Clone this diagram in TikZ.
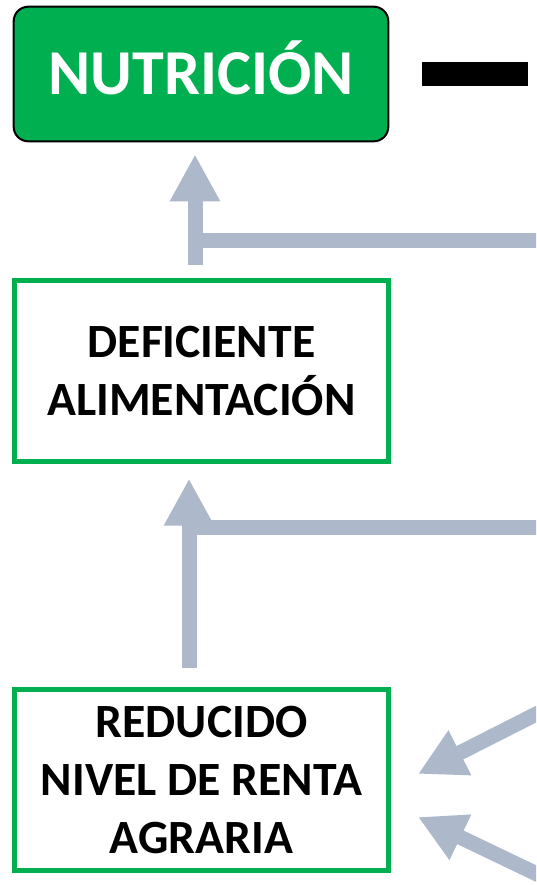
\documentclass[tikz,border=0pt]{standalone}
\usepackage{fontspec}
\setmainfont{Carlito}
\usetikzlibrary{arrows.meta,calc}
\definecolor{verde}{RGB}{0,176,80}
\definecolor{grisazul}{RGB}{173,185,202}

\begin{document}
\begin{tikzpicture}[x=0.75pt,y=0.75pt,yscale=-1,xscale=1,
    cajaverde/.style={draw=verde, line width=3.75pt, fill=white, minimum width=280.5pt, minimum height=135.75pt, inner sep=0pt, align=center, font=\bfseries\fontsize{35.8}{43.5}\selectfont},
    flecha/.style={draw=grisazul, line width=11.25pt, -{Triangle[width=35.25pt,length=35.25pt]}},
    rama/.style={draw=grisazul, line width=11.25pt}]
                \useasboundingbox (0,0) rectangle (536,886);
                \clip (0,0) rectangle (536,886);

                %Shape: Rounded Rect [id:nutri]
                \node[draw=black, line width=1.5pt, fill=verde, rounded corners=11pt, minimum width=281pt, minimum height=101pt, inner sep=0pt, text height=30pt, text depth=0pt, text=white, font=\bfseries\fontsize{48}{50}\selectfont] (nutri) at (201,74) {NUTRICIÓN};
                %Shape: Rectangle [id:guion]
                \fill (421.5,62) rectangle (527.5,86);

                %Shape: Rectangle [id:deficiente]
                \node[cajaverde] (deficiente) at (201.5,371) {DEFICIENTE\\ALIMENTACIÓN};
                %Shape: Rectangle [id:renta]
                \node[cajaverde] (renta) at (201.5,780) {REDUCIDO\\NIVEL DE RENTA\\AGRARIA};

                % ejes de las flechas verticales
                \coordinate (eje1) at (195,0);
                \coordinate (eje2) at (189,0);
                \coordinate (entrada1) at (545,240.5);
                \coordinate (entrada2) at (545,527);
                \coordinate (origen1) at (560,702);
                \coordinate (origen2) at (560,885);

                %Straight Lines [id:flecha1]
                \draw[rama] (entrada1) -- (eje1 |- entrada1);
                \draw[flecha, shorten <=9.5pt, shorten >=9pt] (deficiente.north -| eje1) -- (nutri.south -| eje1);
                %Straight Lines [id:flecha2]
                \draw[rama] (entrada2) -- (eje2 |- entrada2);
                \draw[flecha, shorten <=14pt, shorten >=11pt] (renta.north -| eje2) -- (deficiente.south -| eje2);
                %Straight Lines [id:flecha3]
                \draw[flecha] (origen1) -- ($(renta.east)+(27,-6)$);
                \draw[flecha] (origen2) -- ($(renta.east)+(27,37)$);

\end{tikzpicture}
\end{document}
